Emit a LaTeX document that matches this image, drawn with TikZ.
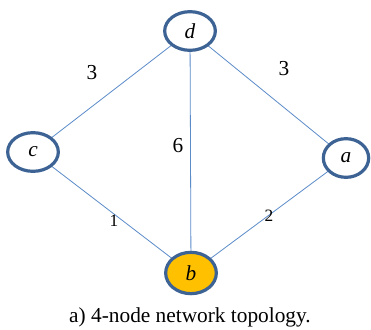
\documentclass[tikz,border=0pt]{standalone}
\usepackage{fontspec}
\setmainfont{Liberation Serif}
\definecolor{edgeblue}{HTML}{5B8BC9}
\definecolor{rimblue}{HTML}{3D6395}
\definecolor{amber}{HTML}{FFC000}
\tikzset{
  vertex/.style={ellipse, draw=rimblue, line width=2.4pt, fill=white,
    minimum width=38pt, minimum height=29pt, inner sep=0pt, font=\fontsize{16}{16}\selectfont\itshape},
  link/.style={draw=edgeblue, line width=0.6pt},
  weight/.style={font=\fontsize{16}{16}\selectfont}
}
\usetikzlibrary{shapes.geometric}
\begin{document}
\begin{tikzpicture}[x=0.75pt, y=0.75pt]
      \useasboundingbox (0, 0) rectangle (371, 329);

      % the four routers
      \coordinate (pd) at (190, 298);
      \coordinate (pc) at (33, 177);
      \coordinate (pa) at (346, 171);
      \coordinate (pb) at (191, 56);

      % links first, so the ellipses sit on top
      \draw[link] (pd) -- (pc);
      \draw[link] (pd) -- (pa);
      \draw[link] (pd) -- (pb);
      \draw[link] (pc) -- (pb);
      \draw[link] (pa) -- (pb);

      \node[vertex] (d) at (pd) {d};
      \node[vertex] (c) at (pc) {c};
      \node[vertex, minimum width=34pt] (a) at (pa) {a};
      \node[vertex, fill=amber, minimum height=31pt] (b) at (pb) {b};

      % link costs
      \node[weight] (w1) at (92, 256) {3};
      \node[weight] (w2) at (284, 260) {3};
      \node[weight] (w3) at (178, 183) {6};
      \node[weight, font=\fontsize{13}{13}\selectfont] (w4) at (114, 108) {1};
      \node[weight, font=\fontsize{13}{13}\selectfont] (w5) at (269, 113) {2};

      \node[font=\fontsize{16}{16}\selectfont] (cap) at (190, 12) {a) 4-node network topology.};
  \end{tikzpicture}
\end{document}
